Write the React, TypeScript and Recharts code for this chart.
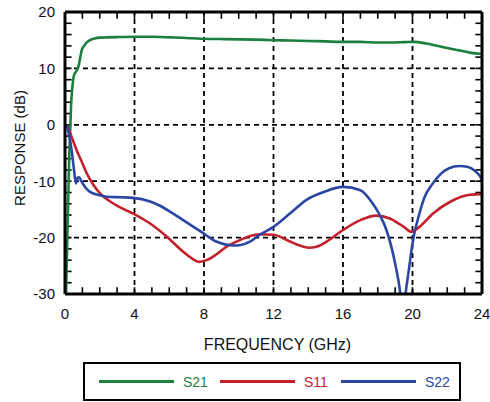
import React from "react"

import { Line, LineChart, ReferenceLine, XAxis, YAxis } from "recharts"

// S21 (gain)
const s21Freq = [0.05, 0.12, 0.18, 0.24, 0.3, 0.35, 0.42, 0.52, 0.65, 0.77, 0.88, 0.96, 1.1, 1.25, 1.44, 1.7, 2.0, 2.4, 3, 4, 5, 6.1, 7, 7.8, 9, 10.1, 11, 12, 13, 14, 15, 15.8, 17, 18, 18.7, 19.5, 20.1, 20.8, 21.4, 22, 22.7, 23.3, 23.9, 24]
const s21Val = [-31, -22, -14, -6, -1, 3.5, 6.5, 8.8, 9.5, 10.3, 12, 13.2, 14.0, 14.6, 15.0, 15.3, 15.45, 15.5, 15.55, 15.6, 15.6, 15.5, 15.4, 15.25, 15.2, 15.15, 15.1, 15.0, 14.95, 14.85, 14.8, 14.7, 14.7, 14.6, 14.6, 14.65, 14.7, 14.4, 14.0, 13.6, 13.2, 12.8, 12.6, 12.6]

// S11 (input return loss)
const s11Freq = [0.1, 0.3, 0.67, 1.0, 1.25, 1.6, 2.0, 2.6, 3.2, 3.9, 4.9, 5.85, 6.8, 7.3, 7.7, 8.15, 8.7, 9.3, 10.1, 10.65, 11.2, 12, 12.95, 13.6, 14.1, 14.6, 15.06, 16, 17, 17.9, 18.7, 19.5, 19.95, 20.4, 21.2, 22.2, 23.3, 24]
const s11Val = [0, -1.5, -4.5, -6.8, -8.6, -10.5, -12.1, -13.6, -14.7, -15.7, -17.5, -19.8, -22.5, -23.7, -24.3, -24.0, -23.0, -21.6, -20.4, -19.7, -19.4, -19.5, -20.7, -21.5, -21.8, -21.5, -20.7, -18.65, -16.9, -16.1, -16.6, -18.1, -19.0, -18.1, -15.7, -13.6, -12.4, -12.3]

// S22 (output return loss)
const s22Freq = [0.1, 0.25, 0.38, 0.5, 0.63, 0.72, 0.8, 0.96, 1.2, 1.44, 2.0, 2.4, 3.2, 3.9, 4.9, 5.5, 6.2, 7.0, 7.8, 8.7, 9.2, 9.7, 10.1, 10.65, 11.2, 12, 13, 13.9, 14.9, 16, 17, 17.7, 18.1, 18.5, 19.0, 19.3, 19.45, 19.6, 19.8, 20.0, 20.4, 20.7, 21.1, 21.6, 22.1, 22.7, 23.2, 23.6, 23.9, 24]
const s22Val = [0, -2, -4.5, -7.5, -10.4, -9.4, -9.3, -10.1, -11.2, -11.9, -12.5, -12.75, -12.85, -12.95, -13.6, -14.4, -15.7, -17.3, -18.9, -20.7, -21.2, -21.4, -21.3, -20.7, -19.5, -18.1, -15.6, -13.3, -11.9, -11.0, -11.6, -13.9, -15.9, -18.65, -24.6, -30, -35, -30, -25.5, -21, -15.7, -12.8, -10.7, -8.8, -7.7, -7.3, -7.5, -8.2, -9.2, -9.8]

const X_MIN = 0
const X_MAX = 24
const Y_MIN = -30
const Y_MAX = 20
const xTicks = Array.from({ length: 25 }, (_, i) => i)
const yTicks = Array.from({ length: 26 }, (_, i) => -30 + i * 2)
const xGrid = [4, 8, 12, 16, 20]
const yGrid = [-20, -10, 0, 10]
// minor tick length, in data units of each axis
const X_TICK_LEN = 1.2
const Y_TICK_LEN = 0.38

const build = (f: number[], v: number[]) => f.map((x, i) => ({ f: x, v: v[i] }))

const series = [
	{ name: "S21", color: "#1b7f3d", data: build(s21Freq, s21Val) },
	{ name: "S11", color: "#c4202b", data: build(s11Freq, s11Val) },
	{ name: "S22", color: "#2b47a3", data: build(s22Freq, s22Val) }
]

const font = "'Liberation Sans', Arial, Helvetica, sans-serif"
const axisLine = { stroke: "#000", strokeWidth: 3 }
const tickStyle = { fill: "#111", fontSize: 15, fontFamily: font }

// eslint-disable-next-line @typescript-eslint/no-explicit-any
const YLabel = ({ viewBox }: any) => {
	const cx = viewBox.x + 19
	const cy = viewBox.y + viewBox.height / 2 - 5
	return (
		<text
			x={cx}
			y={cy}
			transform={`rotate(-90, ${cx}, ${cy})`}
			textAnchor="middle"
			dominantBaseline="central"
			style={{ fontSize: 15, fontFamily: font, fill: "#111" }}
		>
			RESPONSE (dB)
		</text>
	)
}

export default function App() {
	return (
		<div style={{ position: "absolute", left: 0, top: 0, width: 490, height: 402, background: "#fff" }}>
			<LineChart width={490} height={402} margin={{ top: 12, right: 8, bottom: 48, left: 0 }}>
				<XAxis
					xAxisId="b"
					type="number"
					dataKey="f"
					domain={[X_MIN, X_MAX]}
					allowDataOverflow
					ticks={xGrid.concat([0, 24]).sort((a, b) => a - b)}
					interval={0}
					tickSize={-7}
					tickMargin={21}
					height={60}
					axisLine={axisLine}
					tickLine={false}
					tick={tickStyle}
					label={{ value: "FREQUENCY (GHz)", position: "insideBottom", offset: 4, dx: 4, style: { fontSize: 16, fontFamily: font, fill: "#111" } }}
				/>
				<YAxis
					yAxisId="l"
					type="number"
					domain={[Y_MIN, Y_MAX]}
					allowDataOverflow
					ticks={yGrid.concat([-30, 20]).sort((a, b) => a - b)}
					interval={0}
					tickSize={-7}
					tickMargin={17}
					width={65}
					axisLine={axisLine}
					tickLine={false}
					tick={tickStyle}
					label={<YLabel />}
				/>
				{xGrid.map((x) => (
					<ReferenceLine key={`gx${x}`} x={x} xAxisId="b" yAxisId="l" stroke="#000" strokeWidth={1.8} strokeDasharray="5 4" />
				))}
				{yGrid.map((y) => (
					<ReferenceLine key={`gy${y}`} y={y} xAxisId="b" yAxisId="l" stroke="#000" strokeWidth={1.8} strokeDasharray="5 4" />
				))}
				{xTicks.map((x) => (
					<ReferenceLine
						key={`tb${x}`}
						xAxisId="b"
						yAxisId="l"
						segment={[{ x, y: Y_MIN }, { x, y: Y_MIN + X_TICK_LEN }]}
						stroke="#000"
						strokeWidth={1.6}
					/>
				))}
				{xTicks.map((x) => (
					<ReferenceLine
						key={`tt${x}`}
						xAxisId="b"
						yAxisId="l"
						segment={[{ x, y: Y_MAX }, { x, y: Y_MAX - X_TICK_LEN }]}
						stroke="#000"
						strokeWidth={1.6}
					/>
				))}
				{yTicks.map((y) => (
					<ReferenceLine
						key={`tl${y}`}
						xAxisId="b"
						yAxisId="l"
						segment={[{ x: X_MIN, y }, { x: X_MIN + Y_TICK_LEN, y }]}
						stroke="#000"
						strokeWidth={1.6}
					/>
				))}
				{yTicks.map((y) => (
					<ReferenceLine
						key={`tr${y}`}
						xAxisId="b"
						yAxisId="l"
						segment={[{ x: X_MAX, y }, { x: X_MAX - Y_TICK_LEN, y }]}
						stroke="#000"
						strokeWidth={1.6}
					/>
				))}
				{series.map((s) => (
					<Line
						key={s.name}
						xAxisId="b"
						yAxisId="l"
						data={s.data}
						dataKey="v"
						name={s.name}
						type="monotone"
						stroke={s.color}
						strokeWidth={2.6}
						dot={false}
						activeDot={false}
						isAnimationActive={false}
					/>
				))}
				<ReferenceLine y={Y_MAX} xAxisId="b" yAxisId="l" stroke="#000" strokeWidth={3} />
				<ReferenceLine x={X_MAX} xAxisId="b" yAxisId="l" stroke="#000" strokeWidth={3} />
			</LineChart>
			<div
				style={{
					position: "absolute",
					left: 83,
					top: 362,
					width: 378,
					height: 39,
					border: "2px solid #000",
					boxSizing: "border-box",
					fontFamily: font,
					fontSize: 14
				}}
			>
				{series.map((s, i) => (
					<div key={s.name} style={{ position: "absolute", left: 14 + i * 121, top: 0, height: 35, display: "flex", alignItems: "center" }}>
						<div style={{ width: 75, height: 3, background: s.color }} />
						<span style={{ marginLeft: 9, color: s.color }}>{s.name}</span>
					</div>
				))}
			</div>
		</div>
	)
}
